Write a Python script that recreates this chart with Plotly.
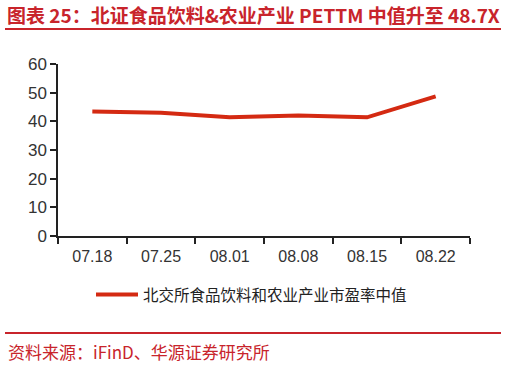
import plotly.graph_objects as go

categories = ["07.18", "07.25", "08.01", "08.08", "08.15", "08.22"]
pe_median = [43.4, 43.0, 41.4, 42.0, 41.4, 48.7]
series_name = "北交所食品饮料和农业产业市盈率中值"
title_text = "图表 25：北证食品饮料&农业产业 PETTM 中值升至 48.7X"
source_text = "资料来源：iFinD、华源证券研究所"

W, H = 507, 366
L, R, T, B = 58, 37, 64, 130
pw, ph = W - L - R, H - T - B

def px_x(x):
    return (x - L) / pw

def px_y(y):
    return (H - B - y) / ph

red = "#C8242B"
line_red = "#D42A12"

fig = go.Figure()
fig.add_trace(go.Scatter(
    x=categories, y=pe_median, mode="lines", name=series_name,
    line=dict(color=line_red, width=4),
))

fig.update_layout(
    width=W, height=H,
    margin=dict(l=L, r=R, t=T, b=B),
    paper_bgcolor="white", plot_bgcolor="white",
    showlegend=True,
    legend=dict(
        orientation="h", x=px_x(91), y=px_y(295), xanchor="left", yanchor="middle",
        font=dict(family="Noto Sans CJK SC", size=15.5, color="#222"),
        bgcolor="rgba(0,0,0,0)", itemwidth=42,
    ),
    xaxis=dict(
        type="category", showgrid=False, showline=True, linecolor="#222", linewidth=1.5,
        ticks="outside", ticklen=6, tickcolor="#222", tickwidth=1.5,
        tickson="boundaries", ticklabelstandoff=5,
        tickfont=dict(family="Liberation Sans", size=16, color="#333"),
        range=[-0.5, 5.5],
    ),
    yaxis=dict(
        range=[0, 60], dtick=10, showgrid=False, showline=True, linecolor="#222", linewidth=1.5,
        ticks="outside", ticklen=6, tickcolor="#222", tickwidth=1.5, zeroline=False,
        tickfont=dict(family="Liberation Sans", size=17, color="#333"),
    ),
    shapes=[
        dict(type="line", xref="paper", yref="paper", x0=px_x(5), x1=px_x(501),
             y0=px_y(29), y1=px_y(29), line=dict(color=red, width=2)),
        dict(type="line", xref="paper", yref="paper", x0=px_x(5), x1=px_x(501),
             y0=px_y(333), y1=px_y(333), line=dict(color=red, width=2)),
    ],
    annotations=[
        dict(text="<b>" + title_text + "</b>", xref="paper", yref="paper",
             x=px_x(5), y=px_y(15), xanchor="left", yanchor="middle", showarrow=False,
             font=dict(family="Noto Sans CJK SC", size=19, color=red)),
        dict(text=source_text, xref="paper", yref="paper",
             x=px_x(6), y=px_y(351), xanchor="left", yanchor="middle", showarrow=False,
             font=dict(family="Noto Sans CJK SC", size=17, color=red)),
    ],
)

fig.write_html("out.html")
